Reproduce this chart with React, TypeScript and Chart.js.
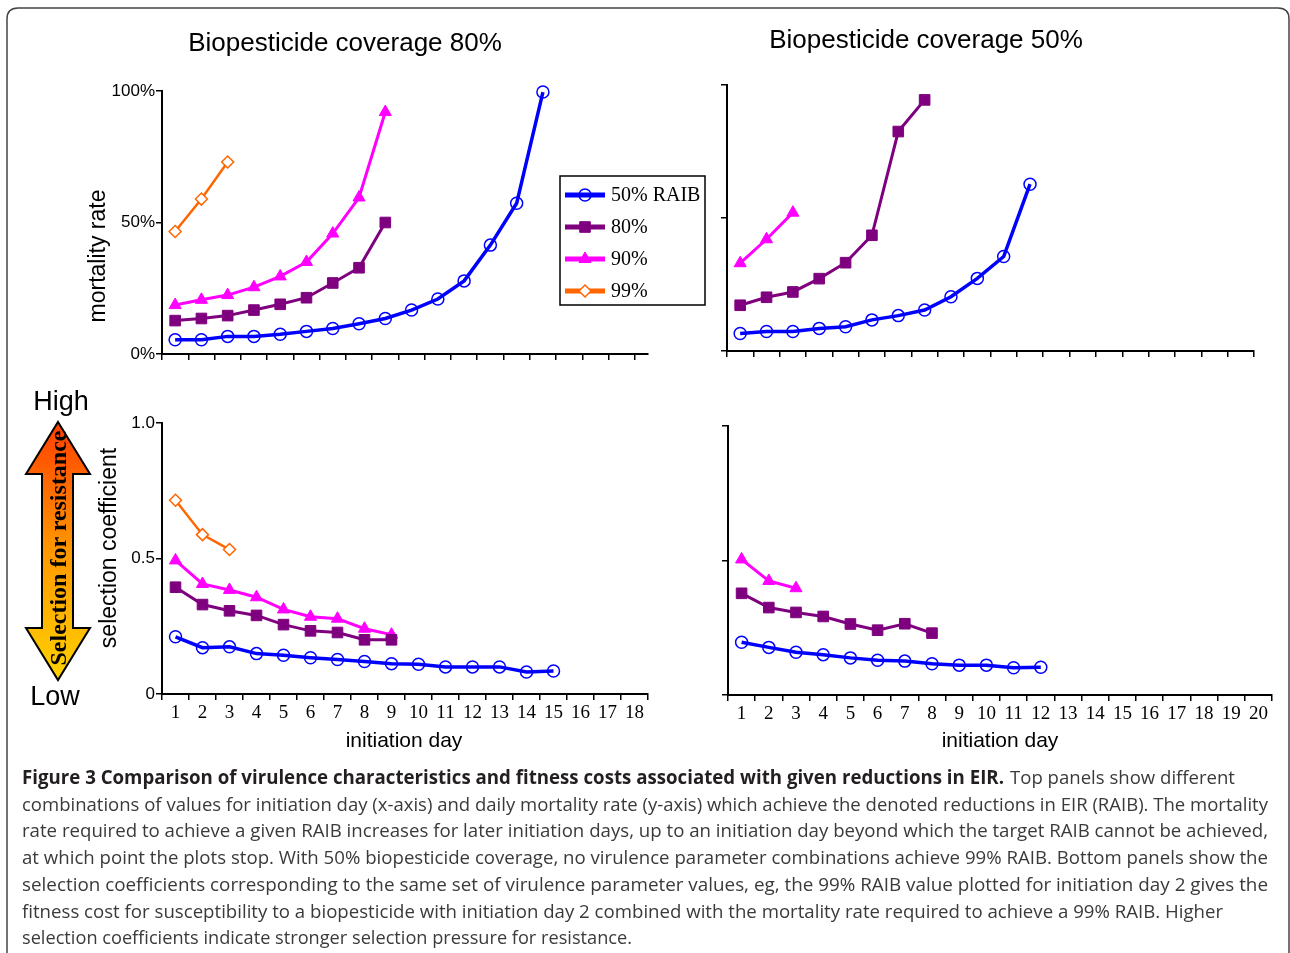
import React, { useEffect, useRef } from "react";
import { Chart, registerables } from "chart.js";
import { drawPoint } from "chart.js/helpers";

Chart.register(...registerables);

// ---------------- data ----------------
const DAYS = [1, 2, 3, 4, 5, 6, 7, 8, 9, 10, 11, 12, 13, 14, 15, 16, 17, 18, 19, 20];
const SERIES_NAMES = ["50% RAIB", "80%", "90%", "99%"];

const Y_TICKS_MORT = [0, 50, 100];
const Y_TICK_LABELS_MORT = ["0%", "50%", "100%"];
const Y_TICKS_SEL = [0, 0.5, 1];
const Y_TICK_LABELS_SEL = ["0", "0.5", "1.0"];

// Biopesticide coverage 80% - mortality rate (%)
const mort80Raib50 = [5.4, 5.4, 6.7, 6.7, 7.5, 8.6, 9.7, 11.5, 13.5, 16.7, 20.9, 27.8, 41.4, 57.3, 99.6];
const mort80Raib80 = [12.7, 13.5, 14.6, 16.7, 18.9, 21.4, 27.0, 32.8, 50.0];
const mort80Raib90 = [18.6, 20.6, 22.4, 25.4, 29.5, 35.0, 45.8, 59.5, 92.0];
const mort80Raib99 = [46.6, 58.9, 73.0];

// Biopesticide coverage 50% - mortality rate (%)
const mort50Raib50 = [6.6, 7.3, 7.3, 8.5, 9.1, 11.7, 13.3, 15.4, 20.4, 27.3, 35.5, 62.7];
const mort50Raib80 = [17.2, 20.2, 22.2, 27.2, 33.2, 43.5, 82.5, 94.4];
const mort50Raib90 = [33.0, 42.0, 52.0];

// Biopesticide coverage 80% - selection coefficient
const sel80Raib50 = [0.211, 0.171, 0.174, 0.149, 0.143, 0.134, 0.127, 0.12, 0.112, 0.11, 0.1, 0.1, 0.1, 0.081, 0.085];
const sel80Raib80 = [0.394, 0.33, 0.307, 0.29, 0.256, 0.233, 0.227, 0.2, 0.2];
const sel80Raib90 = [0.493, 0.406, 0.384, 0.357, 0.312, 0.285, 0.278, 0.241, 0.219];
const sel80Raib99 = [0.715, 0.588, 0.533];

// Biopesticide coverage 50% - selection coefficient
const sel50Raib50 = [0.196, 0.177, 0.159, 0.15, 0.138, 0.129, 0.126, 0.116, 0.111, 0.111, 0.101, 0.103];
const sel50Raib80 = [0.378, 0.325, 0.307, 0.292, 0.264, 0.241, 0.265, 0.23];
const sel50Raib90 = [0.504, 0.424, 0.397];

// ---------------- styles ----------------
const STYLES = [
  { color: "#0000FF", width: 3.5, point: "circle", radius: 6, fill: "rgba(255,255,255,0)", pbw: 1.5 },
  { color: "#7F007F", width: 3, point: "rect", radius: 7.5, fill: "#7F007F", pbw: 1 },
  { color: "#FF00FF", width: 3, point: "triangle", radius: 7, fill: "#FF00FF", pbw: 1 },
  { color: "#FF6600", width: 2.5, point: "rectRot", radius: 6, fill: "#FFFFFF", pbw: 1.5 },
];

const boxLegend = {
  id: "boxLegend",
  afterDraw(chart: any, _args: any, opts: any) {
    if (!opts || !opts.show) return;
    const ctx = chart.ctx;
    ctx.save();
    ctx.strokeStyle = "#000";
    ctx.lineWidth = 1.5;
    ctx.strokeRect(opts.x, opts.y, opts.w, opts.h);
    chart.data.datasets.forEach((ds: any, i: number) => {
      const cy = opts.y + opts.first + i * opts.gap;
      ctx.strokeStyle = ds.borderColor;
      ctx.lineWidth = 5;
      ctx.beginPath();
      ctx.moveTo(opts.x + 5, cy);
      ctx.lineTo(opts.x + 45, cy);
      ctx.stroke();
      ctx.fillStyle = ds.pointBackgroundColor;
      ctx.strokeStyle = ds.pointBorderColor;
      ctx.lineWidth = ds.pointBorderWidth;
      drawPoint(ctx, { pointStyle: ds.pointStyle, radius: ds.pointRadius, borderWidth: ds.pointBorderWidth, rotation: 0 } as any, opts.x + 25, cy);
      ctx.fillStyle = "#000";
      ctx.font = "20px 'Liberation Serif'";
      ctx.textBaseline = "middle";
      ctx.textAlign = "left";
      ctx.fillText(ds.label, opts.x + 51, cy + 1);
    });
    ctx.restore();
  },
};
Chart.register(boxLegend);
Chart.defaults.font.family = "'Liberation Sans', Arial, sans-serif";

type PanelCfg = {
  left: number; top: number; width: number; height: number;
  yW: number; padTop: number; padRight: number; xH: number;
  xMax: number; n: number; series: (number[] | null)[];
  yMax: number; yTicks: number[]; yLabels: string[]; showY: boolean; showX: boolean;
  legend?: any;
};

const PANELS: PanelCfg[] = [
  {
    left: 40, top: 60, width: 680, height: 320, yW: 122, padTop: 31, padRight: 72, xH: 26,
    xMax: 19.0, n: 18, series: [mort80Raib50, mort80Raib80, mort80Raib90, mort80Raib99],
    yMax: 100, yTicks: Y_TICKS_MORT, yLabels: Y_TICK_LABELS_MORT, showY: true, showX: false,
    legend: { show: true, x: 520, y: 116, w: 145, h: 129, first: 19, gap: 32 },
  },
  {
    left: 700, top: 60, width: 580, height: 310, yW: 27, padTop: 25, padRight: 26, xH: 19,
    xMax: 20.5, n: 20, series: [mort50Raib50, mort50Raib80, mort50Raib90, null],
    yMax: 100, yTicks: Y_TICKS_MORT, yLabels: Y_TICK_LABELS_MORT, showY: false, showX: false,
  },
  {
    left: 40, top: 400, width: 620, height: 330, yW: 122, padTop: 23, padRight: 12, xH: 36,
    xMax: 18.5, n: 18, series: [sel80Raib50, sel80Raib80, sel80Raib90, sel80Raib99],
    yMax: 1, yTicks: Y_TICKS_SEL, yLabels: Y_TICK_LABELS_SEL, showY: true, showX: true,
  },
  {
    left: 700, top: 400, width: 585, height: 330, yW: 28, padTop: 26, padRight: 13, xH: 35,
    xMax: 20.5, n: 20, series: [sel50Raib50, sel50Raib80, sel50Raib90, null],
    yMax: 1, yTicks: Y_TICKS_SEL, yLabels: Y_TICK_LABELS_SEL, showY: false, showX: true,
  },
];

function Panel({ cfg }: { cfg: PanelCfg }) {
  const ref = useRef<HTMLCanvasElement>(null);
  useEffect(() => {
    const datasets: any[] = [];
    cfg.series.forEach((vals, i) => {
      if (!vals) return;
      const s = STYLES[i];
      datasets.push({
        label: SERIES_NAMES[i],
        data: vals.map((v, j) => ({ x: DAYS[j], y: v })),
        borderColor: s.color,
        borderWidth: s.width,
        pointStyle: s.point,
        pointRadius: s.radius,
        pointBackgroundColor: s.fill,
        pointBorderColor: s.color,
        pointBorderWidth: s.pbw,
        tension: 0,
        fill: false,
        clip: false,
      });
    });
    const chart = new Chart(ref.current!, {
      type: "line",
      data: { datasets },
      options: {
        animation: false,
        responsive: false,
        events: [],
        layout: { padding: { top: cfg.padTop, right: cfg.padRight, left: 0, bottom: 0 } },
        plugins: {
          legend: { display: false },
          tooltip: { enabled: false },
          boxLegend: cfg.legend ? cfg.legend : { show: false },
        } as any,
        scales: {
          x: {
            type: "linear",
            min: 0.5,
            max: cfg.xMax,
            afterBuildTicks: (s: any) => {
              s.ticks = DAYS.slice(0, cfg.n).map((v) => ({ value: v }));
            },
            afterFit: (s: any) => {
              s.height = cfg.xH;
            },
            grid: { display: true, drawOnChartArea: false, drawTicks: true, tickLength: 6, offset: true, color: "#000", lineWidth: 1.5 },
            border: { display: true, color: "#000", width: 2 },
            ticks: {
              display: cfg.showX,
              autoSkip: false,
              maxRotation: 0,
              padding: 2,
              color: "#000",
              font: { family: "'Liberation Serif', 'Times New Roman', serif", size: 19 },
              callback: (v: any) => String(v),
            },
          },
          y: {
            type: "linear",
            min: 0,
            max: cfg.yMax,
            afterBuildTicks: (s: any) => {
              s.ticks = cfg.yTicks.map((v) => ({ value: v }));
            },
            afterFit: (s: any) => {
              s.width = cfg.yW;
            },
            grid: { display: true, drawOnChartArea: false, drawTicks: true, tickLength: 6, color: "#000", lineWidth: 1.5 },
            border: { display: true, color: "#000", width: 2 },
            ticks: {
              display: cfg.showY,
              padding: 1,
              color: "#000",
              font: { family: "'Liberation Sans', Arial, sans-serif", size: 17 },
              callback: (_v: any, i: number) => cfg.yLabels[i],
            },
          },
        },
      } as any,
    });
    return () => chart.destroy();
  }, [cfg]);
  return (
    <canvas
      ref={ref}
      width={cfg.width}
      height={cfg.height}
      style={{ position: "absolute", left: cfg.left, top: cfg.top, width: cfg.width, height: cfg.height }}
    />
  );
}

const CAPTION_BOLD = "Figure 3 Comparison of virulence characteristics and fitness costs associated with given reductions in EIR.";
const CAPTION_LINES = [
  "Top panels show different",
  "combinations of values for initiation day (x-axis) and daily mortality rate (y-axis) which achieve the denoted reductions in EIR (RAIB). The mortality",
  "rate required to achieve a given RAIB increases for later initiation days, up to an initiation day beyond which the target RAIB cannot be achieved,",
  "at which point the plots stop. With 50% biopesticide coverage, no virulence parameter combinations achieve 99% RAIB. Bottom panels show the",
  "selection coefficients corresponding to the same set of virulence parameter values, eg, the 99% RAIB value plotted for initiation day 2 gives the",
  "fitness cost for susceptibility to a biopesticide with initiation day 2 combined with the mortality rate required to achieve a 99% RAIB. Higher",
  "selection coefficients indicate stronger selection pressure for resistance.",
];
const CAPTION_WIDTHS = [225, 1246, 1246, 1246, 1246, 1201, 610];

export default function App() {
  const sans = "'Liberation Sans', Arial, sans-serif";
  const serif = "'Liberation Serif', 'Times New Roman', serif";
  const cap = "'Open Sans', sans-serif";
  return (
    <div style={{ position: "absolute", left: 0, top: 0, width: 1290, height: 953, overflow: "hidden", background: "#fff" }}>
      {PANELS.map((p, i) => (
        <Panel key={i} cfg={p} />
      ))}
      <svg width={1290} height={953} style={{ position: "absolute", left: 0, top: 0, pointerEvents: "none" }}>
        <defs>
          <linearGradient id="arrowGrad" x1="0" y1="0" x2="0" y2="1">
            <stop offset="0" stopColor="#FF3F00" />
            <stop offset="0.5" stopColor="#FF9800" />
            <stop offset="1" stopColor="#FFD200" />
          </linearGradient>
        </defs>
        {/* frame */}
        <path d="M7,953 L7,19 Q7,8 18,8 L1278,8 Q1289,8 1289,19 L1289,953" fill="none" stroke="#444" strokeWidth={1.5} />
        {/* titles */}
        <text x={345} y={51} textAnchor="middle" fontFamily={sans} fontSize={26} fill="#000">Biopesticide coverage 80%</text>
        <text x={926} y={48} textAnchor="middle" fontFamily={sans} fontSize={26} fill="#000">Biopesticide coverage 50%</text>
        {/* axis titles */}
        <text transform="translate(105,256) rotate(-90)" textAnchor="middle" fontFamily={sans} fontSize={23} fill="#000">mortality rate</text>
        <text transform="translate(116,548) rotate(-90)" textAnchor="middle" fontFamily={sans} fontSize={23} fill="#000">selection coefficient</text>
        <text x={404} y={747} textAnchor="middle" fontFamily={sans} fontSize={21} fill="#000">initiation day</text>
        <text x={1000} y={747} textAnchor="middle" fontFamily={sans} fontSize={21} fill="#000">initiation day</text>
        {/* selection arrow */}
        <text x={61} y={410} textAnchor="middle" fontFamily={sans} fontSize={27} fill="#000">High</text>
        <path d="M58,422 L90,474 L73,474 L73,628 L90,628 L58,680 L26,628 L42,628 L42,474 L26,474 Z" fill="url(#arrowGrad)" stroke="#000" strokeWidth={2} strokeLinejoin="miter" />
        <text transform="translate(58,548) rotate(-90)" textAnchor="middle" dominantBaseline="central" fontFamily={serif} fontWeight="bold" fontSize={24} fill="#000">Selection for resistance</text>
        <text x={55} y={705} textAnchor="middle" fontFamily={sans} fontSize={27} fill="#000">Low</text>
        {/* caption */}
        <text x={22} y={784} fontFamily={cap} fontWeight="bold" fontSize={19} fill="#231F20" textLength={982} lengthAdjust="spacingAndGlyphs">{CAPTION_BOLD}</text>
        <text x={1010} y={784} fontFamily={cap} fontSize={19} fill="#3a3a3a" textLength={CAPTION_WIDTHS[0]} lengthAdjust="spacingAndGlyphs">{CAPTION_LINES[0]}</text>
        {CAPTION_LINES.slice(1).map((t, i) => (
          <text key={i} x={22} y={784 + (i + 1) * 26.7} fontFamily={cap} fontSize={19} fill="#3a3a3a" textLength={CAPTION_WIDTHS[i + 1]} lengthAdjust="spacingAndGlyphs">{t}</text>
        ))}
      </svg>
    </div>
  );
}
